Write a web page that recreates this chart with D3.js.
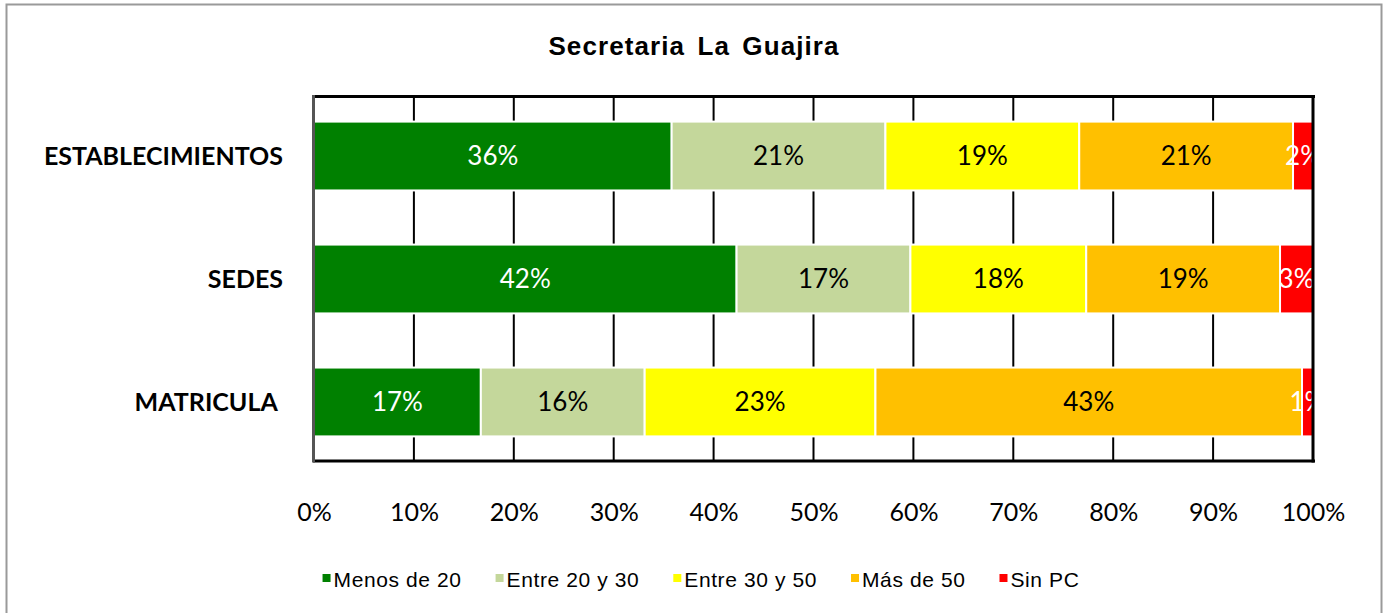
<!DOCTYPE html>
<meta charset="utf-8">
<style>
body { margin: 0; background: #fff; }
.tick-lbl { font: 25px Lato, sans-serif; fill: #000; }
.cat-lbl { font: bold 25px Lato, sans-serif; fill: #000; white-space: pre; }
.val-lbl { font: 26px Lato, sans-serif; }
.title { font: bold 26px "Liberation Sans", Arial, sans-serif; letter-spacing: 1.1px; word-spacing: 4px; }
.legend text { font: 21px "Liberation Sans", Arial, sans-serif; letter-spacing: 0.6px; }
</style>
<body>
<svg width="1386" height="613"></svg>
<script src="https://cdn.jsdelivr.net/npm/d3@7"></script>
<script>

var categories = ["ESTABLECIMIENTOS", "SEDES", "MATRICULA "];
var series = ["Menos de 20", "Entre 20 y 30", "Entre 30 y 50", "Más de 50", "Sin PC"];
var colors = ["#008000", "#c4d79b", "#ffff00", "#ffc000", "#ff0000"];
var labelColors = ["#fff", "#000", "#000", "#000", "#fff"];
// percentages per category, in series order
var establecimientos = [35.8, 21.4, 19.4, 21.4, 2.0];
var sedes = [42.3, 17.4, 17.6, 19.4, 3.3];
var matricula = [16.7, 16.4, 23.1, 42.7, 1.1];
var ticks = [0, 10, 20, 30, 40, 50, 60, 70, 80, 90, 100];

var rows = [establecimientos, sedes, matricula];

var svg = d3.select("svg");

// outer chart border
svg.append("rect")
    .attr("x", 6.5).attr("y", 4.5)
    .attr("width", 1375).attr("height", 620)
    .attr("fill", "#fff")
    .attr("stroke", "#9a9a9a")
    .attr("stroke-width", 2);

svg.append("text")
    .attr("class", "title")
    .attr("x", 694).attr("y", 55)
    .attr("text-anchor", "middle")
    .text("Secretaria La Guajira");

var pLeft = 314, pRight = 1313, pTop = 97, pBottom = 461;

var x = d3.scaleLinear().domain([0, 100]).range([pLeft, pRight]);
var y = d3.scaleBand().domain(categories).range([pTop, pBottom])
    .paddingInner(0.44).paddingOuter(0.2);

// gridlines
svg.append("g").selectAll("line")
    .data(ticks.slice(1, -1))
    .enter().append("line")
      .attr("x1", function(d) { return x(d); })
      .attr("x2", function(d) { return x(d); })
      .attr("y1", pTop).attr("y2", pBottom)
      .attr("stroke", "#000")
      .attr("stroke-width", 2);

svg.append("clipPath").attr("id", "plotclip")
  .append("rect")
    .attr("x", pLeft).attr("y", pTop)
    .attr("width", pRight - pLeft).attr("height", pBottom - pTop);

var plot = svg.append("g").attr("clip-path", "url(#plotclip)");

rows.forEach(function(vals, i) {
  var cat = categories[i];
  var acc = 0;
  var segs = vals.map(function(v, j) {
    var s = { start: acc, end: acc + v, v: v, j: j };
    acc += v;
    return s;
  });

  var g = plot.append("g");
  g.selectAll("rect")
    .data(segs)
    .enter().append("rect")
      .attr("x", function(d) { return x(d.start); })
      .attr("y", y(cat))
      .attr("width", function(d) { return x(d.end) - x(d.start); })
      .attr("height", y.bandwidth())
      .attr("fill", function(d) { return colors[d.j]; })
      .attr("stroke", "#fff")
      .attr("stroke-width", 2);

  g.selectAll("text")
    .data(segs)
    .enter().append("text")
      .attr("class", "val-lbl")
      .attr("x", function(d) { return (x(d.start) + x(d.end)) / 2; })
      .attr("y", y(cat) + y.bandwidth() / 2)
      .attr("dy", "0.36em")
      .attr("text-anchor", "middle")
      .attr("fill", function(d) { return labelColors[d.j]; })
      .text(function(d) { return Math.round(d.v) + "%"; });
});

// plot area frame
svg.append("line").attr("x1", pLeft - 1).attr("x2", pRight + 2).attr("y1", pTop - 0.5).attr("y2", pTop - 0.5)
    .attr("stroke", "#000").attr("stroke-width", 3);
svg.append("line").attr("x1", pLeft - 1).attr("x2", pRight + 2).attr("y1", pBottom).attr("y2", pBottom)
    .attr("stroke", "#000").attr("stroke-width", 3);
svg.append("line").attr("x1", pRight).attr("x2", pRight).attr("y1", pTop - 2).attr("y2", pBottom + 1.5)
    .attr("stroke", "#000").attr("stroke-width", 3);
svg.append("line").attr("x1", pLeft - 0.5).attr("x2", pLeft - 0.5).attr("y1", pTop - 2).attr("y2", pBottom + 1.5)
    .attr("stroke", "#555").attr("stroke-width", 3);

// x axis labels
var xAxis = d3.axisBottom(x)
    .tickValues(ticks)
    .tickSize(0)
    .tickPadding(0)
    .tickFormat(function(d) { return d + "%"; });

var ax = svg.append("g")
    .attr("transform", "translate(0," + (pBottom + 42) + ")")
    .call(xAxis);
ax.select(".domain").remove();
ax.attr("font-size", null).attr("font-family", null);
ax.selectAll("text").attr("class", "tick-lbl").attr("fill", null).attr("dy", "0.71em");

// category labels
svg.append("g").selectAll("text")
    .data(categories)
    .enter().append("text")
      .attr("class", "cat-lbl")
      .attr("x", 283)
      .attr("y", function(d) { return y(d) + y.bandwidth() / 2; })
      .attr("dy", "0.36em")
      .attr("text-anchor", "end")
      .text(function(d) { return d; });

// legend
var legend = svg.append("g").attr("class", "legend");
var items = legend.selectAll("g")
    .data(series)
    .enter().append("g");
items.append("rect")
    .attr("width", 8).attr("height", 8)
    .attr("y", -5)
    .attr("fill", function(d, i) { return colors[i]; });
items.append("text")
    .attr("x", 11)
    .attr("y", 0)
    .attr("dy", "0.36em")
    .text(function(d) { return d; });

var pos = 0;
items.each(function() {
  var w = this.querySelector("text").getComputedTextLength();
  d3.select(this).attr("transform", "translate(" + pos + ",0)");
  pos += 11 + w + 34;
});
var total = pos - 34;
legend.attr("transform", "translate(" + (701 - total / 2) + ",579)");

</script>
</body>
